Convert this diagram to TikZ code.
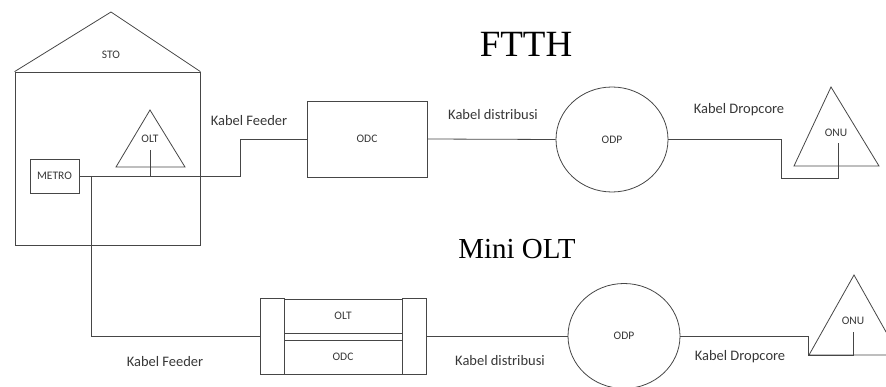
\documentclass[tikz,border=0pt]{standalone}
\usepackage{fontspec}
\setmainfont{Carlito}
\newfontfamily\titlefont{Liberation Serif}
\usepackage{tikz}
\usetikzlibrary{shapes.geometric,positioning}
\definecolor{linegray}{RGB}{70,70,70}
\definecolor{textgray}{RGB}{55,55,55}

\begin{document}
\begin{tikzpicture}[x=1pt,y=-1pt,line width=0.8pt,
  blk/.style={draw=linegray, rectangle, inner sep=0pt},
  lbl/.style={text=textgray, font=\fontsize{11.5}{13}\selectfont},
  cable/.style={text=textgray, font=\fontsize{14.5}{17}\selectfont},
  title/.style={font=\titlefont}]
  \clip (0,0) rectangle (886,387);

  % STO building
  \node[blk, minimum width=185pt, minimum height=173pt] (sto) at (107.5,158.5) {};
  \coordinate (roof) at (111,12);
  \draw[linegray] (sto.north west) -- (roof) -- (sto.north east);
  \node[lbl] (stolbl) at (111,55) {STO};
  \node[blk, minimum width=49pt, minimum height=34pt] (metro) at (54.5,176) {};
  \node[lbl] (metrolbl) at (metro.center) {METRO};

  % OLT triangle
  \coordinate (oltl) at (116,167);
  \coordinate (olttop) at (150,110);
  \coordinate (oltr) at (185,167);
  \draw[linegray] (oltl) -- (olttop) -- (oltr) -- cycle;
  \node[lbl] (oltlbl) at (150,139) {OLT};
  \coordinate (oltin) at (150,150);

  % FTTH path
  \node[blk, minimum width=120pt, minimum height=76pt] (odc) at (367,139) {};
  \node[lbl] (odclbl) at (odc.center) {ODC};
  \node[draw=linegray, ellipse, inner sep=0pt, minimum width=112pt, minimum height=105pt] (odp1) at (612,139.5) {};
  \node[lbl] (odp1lbl) at (odp1.center) {ODP};
  \coordinate (onu1l) at (794,166);
  \coordinate (onu1top) at (831,87);
  \coordinate (onu1r) at (879,166);
  \draw[linegray] (onu1l) -- (onu1top) -- (onu1r) -- cycle;
  \node[lbl] (onu1lbl) at (836,133) {ONU};
  \coordinate (drop1) at (781,178);
  \coordinate (onu1in) at (838,143);

  % Feeder, distribution, dropcore
  \draw[linegray] (metro.east) -- ++(161,0) |- (odc.west);
  \draw[linegray] (oltin) -- (oltin |- metro.east);
  \draw[linegray] (odc.east) -- (odp1.west);
  \draw[linegray] (odp1.east) -| (drop1) -| (onu1in);

  \node[cable] (feed1) at (249,121) {Kabel Feeder};
  \node[cable] (dist1) at (493,115) {Kabel distribusi};
  \node[cable] (dropc1) at (739,110) {Kabel Dropcore};
  \node[title, font=\titlefont\fontsize{37}{40}\selectfont] (ftth) at (526,44) {FTTH};

  % Mini OLT path
  \node[title, font=\titlefont\fontsize{29}{32}\selectfont] (mini) at (517,249) {Mini OLT};
  \node[blk, minimum width=24pt, minimum height=76pt] (capl) at (272,336) {};
  \node[blk, minimum width=24pt, minimum height=76pt] (capr) at (414,336) {};
  \node[blk, minimum width=118pt, minimum height=34pt] (oltbox) at (343,316) {};
  \node[lbl] (oltboxlbl) at (oltbox.center) {OLT};
  \node[blk, minimum width=118pt, minimum height=34pt] (odcbox) at (343,357) {};
  \node[lbl] (odcboxlbl) at (odcbox.center) {ODC};
  \node[draw=linegray, ellipse, inner sep=0pt, minimum width=112pt, minimum height=105pt] (odp2) at (624,336) {};
  \node[lbl] (odp2lbl) at (odp2.center) {ODP};
  \coordinate (onu2l) at (809,355);
  \coordinate (onu2top) at (854,275);
  \coordinate (onu2r) at (899,355);
  \draw[linegray] (onu2l) -- (onu2top) -- (onu2r) -- cycle;
  \node[lbl] (onu2lbl) at (853,321) {ONU};
  \coordinate (drop2) at (808,355);
  \coordinate (onu2in) at (853,332);

  \draw[linegray] ([xshift=12pt]metro.east) |- (capl.west);
  \draw[linegray] (capr.east) -- (odp2.west);
  \draw[linegray] (odp2.east) -| (drop2) -| (onu2in);

  \node[cable] (feed2) at (165,362) {Kabel Feeder};
  \node[cable] (dist2) at (500,361) {Kabel distribusi};
  \node[cable] (dropc2) at (740,357) {Kabel Dropcore};
\end{tikzpicture}
\end{document}
